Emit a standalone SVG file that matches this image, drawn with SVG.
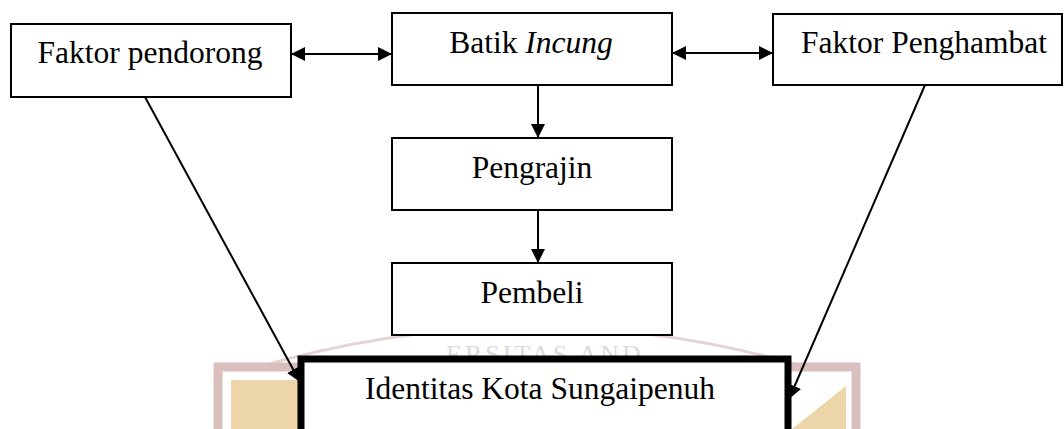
<svg xmlns="http://www.w3.org/2000/svg" width="1064" height="429" viewBox="0 0 1064 429">
  <defs>
    <style>
      .box { fill: #ffffff; stroke: #000000; stroke-width: 2; }
      .thick { fill: #ffffff; stroke: #000000; stroke-width: 7; }
      .lbl { font-family: "Liberation Serif", "Times New Roman", serif; font-size: 31.5px; fill: #000000; text-anchor: middle; }
      .conn { fill: none; stroke: #000000; stroke-width: 2; }
      .wm-frame { fill: none; stroke: #d8b9b9; stroke-width: 9; }
      .wm-fill { fill: #ebd19f; }
    </style>
    <marker id="ah" viewBox="0 0 14 14" refX="14" refY="7" markerWidth="14" markerHeight="14" markerUnits="userSpaceOnUse" orient="auto-start-reverse">
      <path d="M0,0 L14,7 L0,14 z" fill="#000000"/>
    </marker>
  </defs>

  <rect x="0" y="0" width="1064" height="429" fill="#ffffff"/>

  <!-- faint watermark -->
  <g id="watermark" opacity="0.9">
    <path d="M255,368 Q532,286 809,368" fill="none" stroke="#e3d0d0" stroke-width="3"/>
    <text x="545" y="363" font-family="Liberation Serif, serif" font-size="26" fill="#dcd5d5" text-anchor="middle" letter-spacing="3">ERSITAS AND</text>
    <path class="wm-frame" d="M218,429 L218,367 L300,367"/>
    <rect class="wm-fill" x="231" y="380" width="70" height="49"/>
    <path class="wm-frame" d="M785,367 L856,367 L856,429"/>
    <path class="wm-fill" d="M792,429 L846,386 L846,429 z"/>
  </g>

  <g id="node-faktor-pendorong">
    <rect class="box" x="11" y="24" width="280" height="73"/>
    <text class="lbl" x="150" y="63">Faktor pendorong</text>
  </g>
  <g id="node-batik-incung">
    <rect class="box" x="392" y="13" width="280" height="72"/>
    <text class="lbl" x="531" y="53">Batik <tspan font-style="italic">Incung</tspan></text>
  </g>
  <g id="node-faktor-penghambat">
    <rect class="box" x="773" y="14" width="289" height="71"/>
    <text class="lbl" x="924" y="53">Faktor Penghambat</text>
  </g>
  <g id="node-pengrajin">
    <rect class="box" x="392" y="138" width="280" height="72"/>
    <text class="lbl" x="532" y="178">Pengrajin</text>
  </g>
  <g id="node-pembeli">
    <rect class="box" x="392" y="263" width="280" height="72"/>
    <text class="lbl" x="532" y="303">Pembeli</text>
  </g>
  <g id="node-identitas">
    <rect class="thick" x="301" y="359" width="487" height="90"/>
    <text class="lbl" x="540" y="399">Identitas Kota Sungaipenuh</text>
  </g>

  <g id="connectors">
    <line class="conn" x1="291" y1="54" x2="392" y2="54" marker-start="url(#ah)" marker-end="url(#ah)"/>
    <line class="conn" x1="672" y1="53" x2="773" y2="53" marker-start="url(#ah)" marker-end="url(#ah)"/>
    <line class="conn" x1="538" y1="85" x2="538" y2="138" marker-end="url(#ah)"/>
    <line class="conn" x1="538" y1="210" x2="538" y2="263" marker-end="url(#ah)"/>
    <line class="conn" x1="145" y1="97" x2="300" y2="382" marker-end="url(#ah)"/>
    <line class="conn" x1="925" y1="85" x2="789" y2="399" marker-end="url(#ah)"/>
  </g>
</svg>
